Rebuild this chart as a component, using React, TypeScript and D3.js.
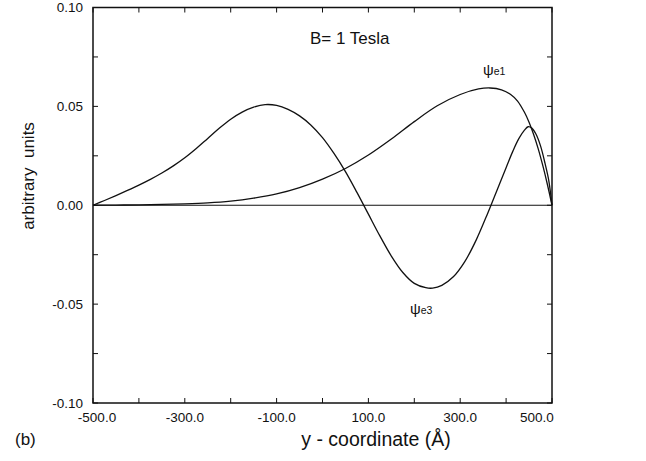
import React from "react";
import * as d3 from "d3";

// psi_e1 (x in Å, value in arbitrary units)
const e1X = [-500, -450, -400, -350, -300, -250, -200, -150, -100, -50, 0, 50, 100, 150, 200, 250, 300, 340, 365, 390, 410, 425, 440, 450, 460, 470, 480, 490, 500];
const e1Y = [0, 0.0001, 0.0002, 0.0004, 0.0007, 0.0012, 0.0021, 0.0036, 0.0057, 0.0089, 0.0132, 0.0186, 0.0254, 0.0335, 0.0423, 0.0503, 0.056, 0.0588, 0.0593, 0.0584, 0.056, 0.0527, 0.047, 0.042, 0.0358, 0.0285, 0.02, 0.0105, 0];

// psi_e3
const e3X = [-500, -475, -450, -425, -400, -375, -350, -325, -300, -275, -250, -225, -200, -175, -150, -125, -100, -75, -50, -25, 0, 25, 50, 75, 100, 125, 150, 175, 200, 225, 240, 260, 285, 310, 335, 360, 380, 400, 415, 428, 440, 448, 456, 465, 475, 485, 493, 500];
const e3Y = [0, 0.0024, 0.0049, 0.0075, 0.0102, 0.0131, 0.0163, 0.0199, 0.024, 0.0287, 0.0338, 0.0389, 0.0435, 0.0471, 0.0496, 0.0509, 0.0505, 0.0485, 0.0452, 0.0405, 0.0342, 0.0262, 0.017, 0.0065, -0.0045, -0.0155, -0.0257, -0.034, -0.0395, -0.0417, -0.0419, -0.0405, -0.0362, -0.0285, -0.0175, -0.004, 0.0075, 0.019, 0.0275, 0.0338, 0.038, 0.0397, 0.039, 0.036, 0.03, 0.021, 0.0125, 0];

const xTicks = [-500, -400, -300, -200, -100, 0, 100, 200, 300, 400, 500];
const xTickLabels = [-500, -300, -100, 100, 300, 500];
const yTicks = [-0.1, -0.075, -0.05, -0.025, 0, 0.025, 0.05, 0.075, 0.1];
const yTickLabels = [-0.1, -0.05, 0, 0.05, 0.1];

const FONT = "'Liberation Sans', Arial, Helvetica, sans-serif";

export default function App() {
  const left = 93, right = 552, top = 7.5, bottom = 403;
  const x = d3.scaleLinear().domain([-500, 500]).range([left, right]);
  const y = d3.scaleLinear().domain([-0.1, 0.1]).range([bottom, top]);
  const mk = (xs: number[]) =>
    d3
      .line<number>()
      .x((_, i) => x(xs[i]))
      .y((d) => y(d))
      .curve(d3.curveCatmullRom.alpha(0.5));
  const tl = 5;
  const labelX = (t: number) => (t === -500 ? x(t) + 4 : t === 500 ? x(t) - 15 : x(t));
  return (
    <svg
      width={646}
      height={461}
      style={{ position: "absolute", left: 0, top: 0, background: "#fff" }}
      fontFamily={FONT}
    >
      <rect x={0} y={0} width={646} height={461} fill="#fff" />
      <path d={mk(e1X)(e1Y) || ""} fill="none" stroke="#111" strokeWidth={1.3} />
      <path d={mk(e3X)(e3Y) || ""} fill="none" stroke="#111" strokeWidth={1.3} />
      <line x1={left} x2={right} y1={y(0)} y2={y(0)} stroke="#111" strokeWidth={1.2} />
      <rect x={left} y={top} width={right - left} height={bottom - top} fill="none" stroke="#111" strokeWidth={1.5} />
      {xTicks.map((t) => (
        <g key={"xt" + t}>
          <line x1={x(t)} x2={x(t)} y1={bottom} y2={bottom - tl} stroke="#111" strokeWidth={1} />
          <line x1={x(t)} x2={x(t)} y1={top} y2={top + tl} stroke="#111" strokeWidth={1} />
        </g>
      ))}
      {yTicks.map((t) => (
        <g key={"yt" + t}>
          <line x1={left} x2={left + tl} y1={y(t)} y2={y(t)} stroke="#111" strokeWidth={1} />
          <line x1={right} x2={right - tl} y1={y(t)} y2={y(t)} stroke="#111" strokeWidth={1} />
        </g>
      ))}
      {xTickLabels.map((t) => (
        <text key={"xl" + t} x={labelX(t)} y={422} textAnchor="middle" fontSize={13.5} fill="#111">
          {t.toFixed(1)}
        </text>
      ))}
      {yTickLabels.map((t) => (
        <text key={"yl" + t} x={83} y={y(t)} dy="0.35em" textAnchor="end" fontSize={13.5} fill="#111">
          {t.toFixed(2)}
        </text>
      ))}
      <text x={376} y={446} textAnchor="middle" fontSize={19.5} fill="#111">
        y - coordinate (Å)
      </text>
      <text
        transform={`translate(34,176) rotate(-90)`}
        textAnchor="middle"
        fontSize={17}
        fill="#111"
        style={{ whiteSpace: "pre" }}
      >
        {"arbitrary  units"}
      </text>
      <text x={15} y={445} fontSize={17} fill="#111">
        (b)
      </text>
      <text x={310} y={44} fontSize={17} fill="#111">
        B= 1 Tesla
      </text>
      <text x={483} y={75} fill="#111">
        <tspan fontSize={15}>ψ</tspan>
        <tspan fontSize={10.5}>e1</tspan>
      </text>
      <text x={410} y={314} fill="#111">
        <tspan fontSize={15}>ψ</tspan>
        <tspan fontSize={10.5}>e3</tspan>
      </text>
    </svg>
  );
}
